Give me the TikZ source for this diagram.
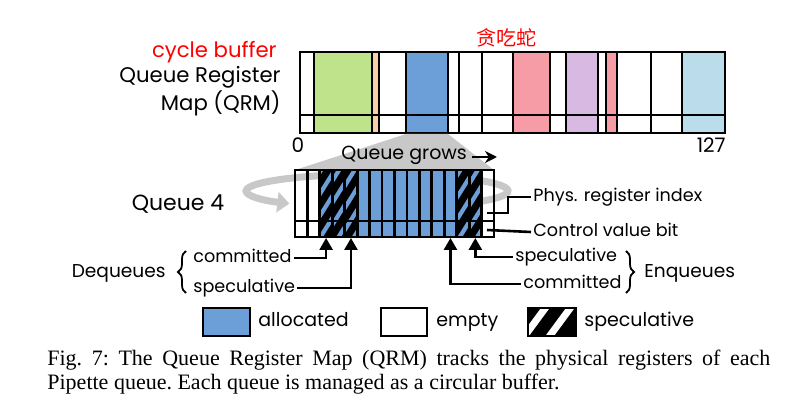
\documentclass[tikz,border=0pt]{standalone}
\usepackage{fontspec}
\setmainfont{Poppins}
\newfontfamily\capfont{Liberation Serif}
\newfontfamily\cjkfont{Noto Sans CJK SC}
\usetikzlibrary{arrows.meta,positioning,decorations.pathreplacing}

\definecolor{qblue}{RGB}{108,159,216}
\definecolor{qgreen}{RGB}{190,227,138}
\definecolor{qorange}{RGB}{248,207,168}
\definecolor{qpink}{RGB}{246,156,167}
\definecolor{qpurple}{RGB}{215,185,225}
\definecolor{qcyan}{RGB}{187,221,235}
\definecolor{qgray}{RGB}{200,200,200}

\tikzset{
  biglabel/.style={font=\fontsize{10.6}{13}\selectfont, inner sep=0pt},
  smalllabel/.style={font=\fontsize{8.8}{11}\selectfont, text height=7pt, text depth=2pt, inner sep=1pt},
  cellline/.style={line width=1.4pt},
  uparrow/.style={line width=1.3pt, -{Triangle[length=6pt,width=6.5pt]}},
  curly/.style={decorate, decoration={brace, amplitude=4pt}, line width=0.9pt},
}

\begin{document}
\begin{tikzpicture}[x=0.5pt,y=-0.5pt]
\useasboundingbox (0,0) rectangle (789,406);

% register map
\fill[qgreen] (314,52) rectangle (372,133);
\fill[qorange] (372,52) rectangle (379,133);
\fill[qblue] (406,52) rectangle (448,133);
\fill[qpink] (513,52) rectangle (550,133);
\fill[qpurple] (566,52) rectangle (598,133);
\fill[qpink] (606,52) rectangle (617,133);
\fill[qcyan] (682,52) rectangle (725,133);
\foreach \x in {314,372,379,406,448,482,513,550,566,598,606,617,651,682}
  \draw[cellline] (\x,52) -- (\x,133);
\draw[line width=0.8pt] (459,52) -- (459,133);
\draw[cellline] (300,115) -- (725,115);
\draw[cellline] (300,52) rectangle (725,133);

\node[biglabel, text=red, anchor=base east] (cyclelbl) at (277,58) {cycle buffer};
\node[biglabel, anchor=base east] (qrmlbl) at (281,83) {Queue Register};
\node[biglabel, anchor=base east] (maplbl) at (281,111) {Map (QRM)};
\node[text=red, font=\cjkfont\fontsize{10}{12}\selectfont, inner sep=0pt] (snakelbl) at (506,38) {贪吃蛇};
\node[biglabel, font=\fontsize{10}{12}\selectfont, anchor=base] (zero) at (298,153) {0};
\node[biglabel, font=\fontsize{10}{12}\selectfont, anchor=base east] (last) at (726,153) {127};

% zoom funnel and wrap-around loop
\fill[qgray] (406,134) -- (448,134) -- (494,170) -- (295,170) -- cycle;
\draw[qgray, line width=3.5pt, -{Triangle[length=6pt,width=10pt]}]
  (442.5,205.7) arc[start angle=60, end angle=-228, x radius=131, y radius=17];

\node[smalllabel, font=\fontsize{9.5}{11}\selectfont, anchor=base west] (grows) at (339,160) {Queue grows};
\coordinate (growsend) at (497,157);
\draw[line width=1.3pt, -{Stealth[length=6pt,width=6pt]}] (grows.east |- growsend) ++(3,0) -- (growsend);

% queue 4
\foreach \i in {0,...,15} {
  \pgfmathsetmacro{\xa}{295+12.4375*\i}
  \pgfmathsetmacro{\xb}{295+12.4375*(\i+1)}
  \ifnum\i>1 \ifnum\i<15
    \fill[qblue] (\xa,170) rectangle (\xb,237);
  \fi\fi
}
\foreach \i/\off in {2/0,3/9,4/14,13/4,14/12} {
  \pgfmathsetmacro{\xa}{295+12.4375*\i}
  \pgfmathsetmacro{\xb}{295+12.4375*(\i+1)}
  \begin{scope}
    \clip (\xa,170) rectangle (\xb,237);
    \fill[black] (\xa,170) rectangle (\xb,237);
    \foreach \k in {-1,...,3}
      \fill[qblue] (\xa,170+22*\k+\off+20) -- (\xb,170+22*\k+\off)
        -- (\xb,170+22*\k+\off+8) -- (\xa,170+22*\k+\off+28) -- cycle;
  \end{scope}
}
\foreach \i in {1,...,15}
  \draw[cellline] ({295+12.4375*\i},170) -- ({295+12.4375*\i},237);
\draw[cellline] (295,221) -- (494,221);
\draw[cellline] (295,170) rectangle (494,237);

\node[biglabel, font=\fontsize{11}{13}\selectfont] (q4) at (178,204) {Queue 4};

% index and control bit
\coordinate (idxpt) at (487,213);
\coordinate (ctrlpt) at (487,230);
\node[smalllabel, anchor=base west] (phys) at (531,202) {Phys. register index};
\node[smalllabel, anchor=base west] (ctrl) at (531,237) {Control value bit};
\draw[line width=1.3pt] (idxpt) -- ++(21,0) |- (phys.west);
\draw[line width=1.3pt] (ctrlpt) -- (ctrl.west);

% head and tail pointers
\foreach \i in {2,4,12,14}
  \coordinate (q\i) at ({295+12.4375*(\i+0.5)},238);
\node[smalllabel, anchor=base west] (deqcom) at (191,263) {committed};
\node[smalllabel, anchor=base west] (deqspec) at (191,293) {speculative};
\draw[curly] (186,293) -- (186,251);
\node[smalllabel, font=\fontsize{9.3}{11}\selectfont, anchor=base east] (deqlbl) at (168,278) {Dequeues};
\draw[uparrow] (deqcom.east) -| (q2);
\draw[uparrow] (deqspec.east) -| (q4);

\node[smalllabel, anchor=base west] (enqspec) at (513,262) {speculative};
\node[smalllabel, anchor=base west] (enqcom) at (521,289) {committed};
\draw[curly] (626,251) -- (626,293);
\node[smalllabel, font=\fontsize{9.3}{11}\selectfont, anchor=base west] (enqlbl) at (642,278) {Enqueues};
\draw[uparrow] (enqspec.west) -| (q14);
\draw[uparrow] (enqcom.west) -| (q12);

% legend
\draw[cellline, fill=qblue] (203,308) rectangle (250,336);
\node[smalllabel, font=\fontsize{9.5}{11}\selectfont, anchor=base west] (allocated) at (256,327) {allocated};
\draw[cellline] (381,308) rectangle (427,336);
\node[smalllabel, font=\fontsize{9.5}{11}\selectfont, anchor=base west] (empty) at (434,327) {empty};
\begin{scope}
  \clip (528,308) rectangle (576,336);
  \fill[black] (528,308) rectangle (576,336);
  \draw[white, line width=3.5pt] (521,341) -- (549,303);
  \draw[white, line width=3.5pt] (546,341) -- (574,303);
\end{scope}
\draw[cellline] (528,308) rectangle (576,336);
\node[smalllabel, font=\fontsize{9.5}{11}\selectfont, anchor=base west] (speclbl) at (582,327) {speculative};

% caption
\node[anchor=north west, inner sep=0pt, text width=361.5pt, align=justify,
  font=\capfont\fontsize{11}{12}\selectfont\frenchspacing] (caption) at (47,350)
  {Fig.\ 7: The Queue Register Map (QRM) tracks the physical registers of each\linebreak
   Pipette queue. Each queue is managed as a circular buffer.};
\end{tikzpicture}
\end{document}
